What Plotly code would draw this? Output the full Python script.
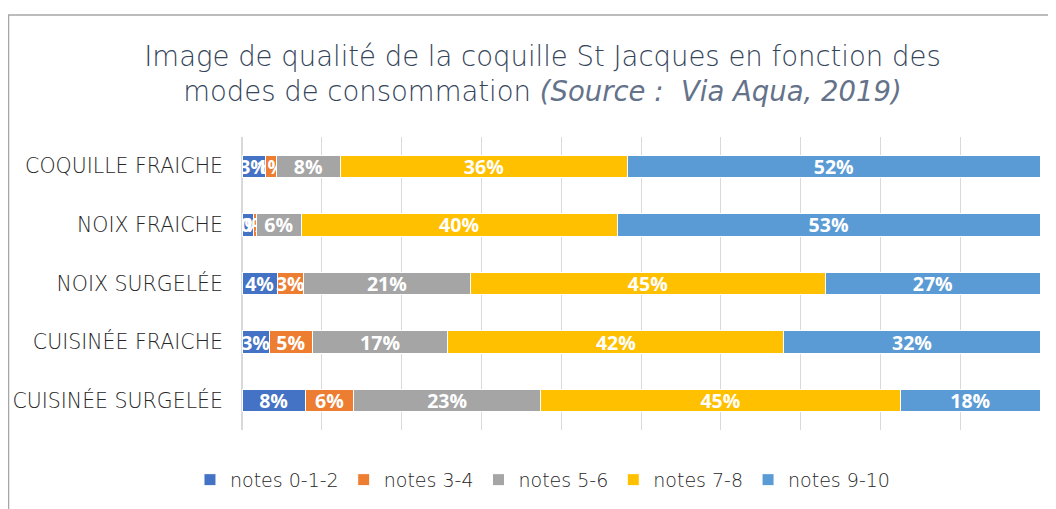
import plotly.graph_objects as go

categories = ["COQUILLE FRAICHE", "NOIX FRAICHE", "NOIX SURGELÉE", "CUISINÉE FRAICHE", "CUISINÉE SURGELÉE"]
series_names = ["notes 0-1-2", "notes 3-4", "notes 5-6", "notes 7-8", "notes 9-10"]
notes_0_1_2 = [2.9, 1.4, 4.4, 3.4, 7.9]
notes_3_4 = [1.4, 0.4, 3.3, 5.4, 6.1]
notes_5_6 = [8.0, 5.6, 20.9, 17.0, 23.4]
notes_7_8 = [36.0, 39.6, 44.5, 42.1, 45.1]
notes_9_10 = [51.7, 53.0, 26.9, 32.1, 17.5]
colors = ["#4472c4", "#ed7d31", "#a5a5a5", "#ffc000", "#5b9bd5"]

series_values = [notes_0_1_2, notes_3_4, notes_5_6, notes_7_8, notes_9_10]

W, H = 1048, 501
ML, MR, MT, MB = 234, 16, 129, 79
PW, PH = W - ML - MR, H - MT - MB

fig = go.Figure()
for name, vals, col in zip(series_names, series_values, colors):
    fig.add_trace(go.Bar(
        y=categories, x=vals, name=name, orientation="h",
        marker=dict(color=col, line=dict(color="white", width=1)),
        text=vals, texttemplate="%{x:.0f}%", textposition="inside", textangle=0,
        insidetextanchor="middle", constraintext="none",
        textfont=dict(family="Open Sans", size=19.5, color="white", weight="bold"),
        width=0.38,
    ))

fig.update_layout(
    barmode="stack",
    width=W, height=H,
    margin=dict(l=ML, r=MR, t=MT, b=MB, autoexpand=False),
    paper_bgcolor="white", plot_bgcolor="white",
    title=dict(
        text="Image de qualité de la coquille St Jacques en fonction des<br>modes de consommation "
             "<span style='font-style:italic;color:#64728a'>(Source :  Via Aqua, 2019)</span>",
        x=0.51, xanchor="center", yref="container", y=0.885, yanchor="top",
        font=dict(family="DejaVu Sans", size=27.5, color="#34445a", weight=200),
    ),
    xaxis=dict(range=[0, 100], dtick=10, showticklabels=False, showgrid=True,
               gridcolor="#d9d9d9", gridwidth=1, zeroline=True, zerolinecolor="#d9d9d9",
               fixedrange=True),
    yaxis=dict(autorange="reversed", showgrid=False, ticks="", ticklabelstandoff=18,
               tickfont=dict(family="DejaVu Sans", size=20.5, color="#262626", weight=200)),
    legend=dict(orientation="h", xref="container", x=0.51, xanchor="center",
                y=-0.17, yanchor="middle",
                font=dict(family="DejaVu Sans", size=19, color="#262626", weight=200),
                traceorder="normal", itemwidth=30),
    showlegend=True,
    shapes=[dict(type="rect", xref="paper", yref="paper",
                 x0=-(ML - 0.5) / PW, x1=1.1, y0=-1, y1=1 + (MT - 7) / PH,
                 line=dict(color="#a6a6a6", width=1.5), fillcolor="rgba(0,0,0,0)", layer="below")],
)

fig.write_html("out.html")
